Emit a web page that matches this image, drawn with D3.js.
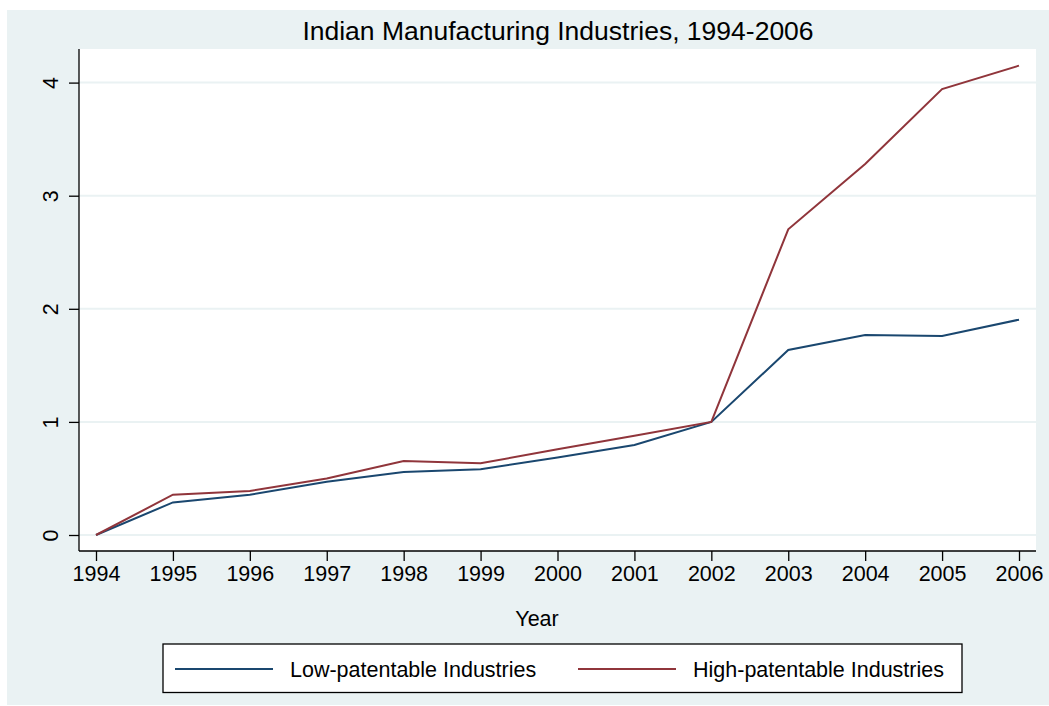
<!DOCTYPE html>
<html>
<head>
<meta charset="utf-8">
<script src="https://cdn.jsdelivr.net/npm/d3@7"></script>
<style>
  body { margin: 0; background: #fff; }
  text { font-family: "Liberation Sans", Arial, sans-serif; fill: #000; }
</style>
</head>
<body>
<svg width="1049" height="706"></svg>
<script>
// data
var years = [1994, 1995, 1996, 1997, 1998, 1999, 2000, 2001, 2002, 2003, 2004, 2005, 2006];
var lowPat = [0, 0.288, 0.356, 0.47, 0.557, 0.581, 0.685, 0.796, 1.0, 1.636, 1.768, 1.759, 1.904];
var highPat = [0, 0.356, 0.389, 0.50, 0.654, 0.634, 0.758, 0.878, 1.0, 2.703, 3.28, 3.943, 4.15];
var yTicks = [0, 1, 2, 3, 4];
var seriesNames = ["Low-patentable Industries", "High-patentable Industries"];
var seriesColors = ["#1a476f", "#90353b"];

var svg = d3.select("svg");

// outer graph region
svg.append("rect").attr("x", 7).attr("y", 10).attr("width", 1042).attr("height", 695)
  .attr("fill", "#eaf2f3");

var pLeft = 79, pRight = 1036, pTop = 49, pBottom = 551;

svg.append("rect").attr("x", pLeft).attr("y", pTop)
  .attr("width", pRight - pLeft).attr("height", pBottom - pTop).attr("fill", "#fff");

var x = d3.scaleLinear().domain([1994, 2006]).range([96, 1019]);
var y = d3.scaleLinear().domain([0, 4]).range([535, 82.6]);

// gridlines
svg.append("g").selectAll("line").data(yTicks).enter().append("line")
  .attr("x1", pLeft).attr("x2", pRight)
  .attr("y1", function(d) { return y(d); }).attr("y2", function(d) { return y(d); })
  .attr("stroke", "#eaf2f3").attr("stroke-width", 2);

// axes
var xAxis = svg.append("g").attr("transform", "translate(0," + pBottom + ")")
  .call(d3.axisBottom(x).tickValues(years).tickFormat(d3.format("d")).tickSize(10).tickPadding(5).tickSizeOuter(0));
xAxis.select(".domain").attr("d", "M" + pLeft + ",0H" + pRight);
xAxis.selectAll("text").style("font-size", "21.5px").attr("font-family", null);

var yAxis = svg.append("g").attr("transform", "translate(" + pLeft + ",0)")
  .call(d3.axisLeft(y).tickValues(yTicks).tickFormat(d3.format("d")).tickSize(10).tickPadding(6).tickSizeOuter(0));
yAxis.select(".domain").attr("d", "M0," + pTop + "V" + pBottom);
yAxis.selectAll("text")
  .style("font-size", "21.5px").attr("font-family", null)
  .attr("x", null).attr("dy", null)
  .attr("text-anchor", "middle")
  .attr("transform", "translate(-21,0) rotate(-90)");
svg.selectAll(".domain, .tick line").attr("stroke", "#000").attr("stroke-width", 1.3);

// lines
var line = d3.line()
  .x(function(d, i) { return x(years[i]); })
  .y(function(d) { return y(d); });

[lowPat, highPat].forEach(function(s, i) {
  svg.append("path").datum(s)
    .attr("d", line)
    .attr("fill", "none")
    .attr("stroke", seriesColors[i])
    .attr("stroke-width", 2);
});

// titles
svg.append("text").attr("x", 558).attr("y", 40).attr("text-anchor", "middle")
  .style("font-size", "26.5px").text("Indian Manufacturing Industries, 1994-2006");
svg.append("text").attr("x", 537).attr("y", 626).attr("text-anchor", "middle")
  .style("font-size", "21.5px").text("Year");

// legend
var leg = svg.append("g");
leg.append("rect").attr("x", 163).attr("y", 644).attr("width", 799).attr("height", 48.5)
  .attr("fill", "#fff").attr("stroke", "#000").attr("stroke-width", 1.3);
var legX = [175, 578];
seriesNames.forEach(function(n, i) {
  leg.append("line").attr("x1", legX[i]).attr("x2", legX[i] + 98)
    .attr("y1", 669).attr("y2", 669)
    .attr("stroke", seriesColors[i]).attr("stroke-width", 2);
  leg.append("text").attr("x", legX[i] + 115).attr("y", 676.5)
    .style("font-size", "21.5px").text(n);
});
</script>
</body>
</html>
